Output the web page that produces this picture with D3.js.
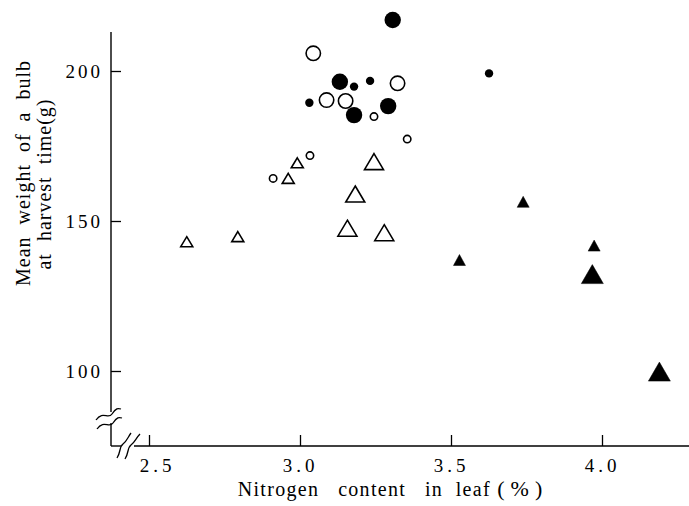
<!DOCTYPE html>
<html>
<head>
<meta charset="utf-8">
<script src="https://cdn.jsdelivr.net/npm/d3@7"></script>
<style>
  html, body { margin: 0; padding: 0; background: #fff; }
  svg { display: block; }
  text { font-family: "Liberation Serif", "DejaVu Serif", serif; fill: #000; white-space: pre; }
</style>
</head>
<body>
<svg id="chart" width="689" height="506"></svg>
<script>
// ---- data ----
const xTicks = [2.5, 3.0, 3.5, 4.0];
const xTickLabels = ["2.5", "3.0", "3.5", "4.0"];
const yTicks = [100, 150, 200];
const yTickLabels = ["100", "150", "200"];

const filledCircleLargeX = [3.307, 3.132, 3.292, 3.179];
const filledCircleLargeY = [217.0, 196.4, 188.3, 185.3];
const filledCircleSmallX = [3.179, 3.232, 3.031, 3.626];
const filledCircleSmallY = [194.8, 196.7, 189.4, 199.2];
const openCircleLargeX = [3.044, 3.323, 3.088, 3.151];
const openCircleLargeY = [205.9, 195.9, 190.3, 190.0];
const openCircleSmallX = [3.245, 3.355, 3.033, 2.911];
const openCircleSmallY = [184.8, 177.3, 171.8, 164.2];
const openTriSmallX = [2.991, 2.961, 2.625, 2.794];
const openTriSmallY = [169.4, 164.2, 143.1, 144.8];
const openTriLargeX = [3.245, 3.183, 3.157, 3.279];
const openTriLargeY = [169.8, 159.0, 147.6, 146.1];
const filledTriSmallX = [3.739, 3.528, 3.974];
const filledTriSmallY = [156.4, 137.0, 141.8];
const filledTriLargeX = [3.968, 4.19];
const filledTriLargeY = [132.3, 99.8];

const xLabelMain = "Nitrogen   content   in  leaf ";
const xLabelUnit = "(%)";
const yLabel1 = "Mean  weight  of  a  bulb";
const yLabel2 = "at  harvest  time(g)";

// ---- drawing ----
const svg = d3.select("#chart");
const x = d3.scaleLinear().domain([2.5, 4.0]).range([149, 602]);
const y = d3.scaleLinear().domain([100, 200]).range([371, 71]);
const axisX0 = 111, axisY0 = 446;

// axes with inward ticks
const gx = svg.append("g").attr("transform", `translate(0,${axisY0})`)
  .call(d3.axisBottom(x).tickValues(xTicks).tickFormat((d, i) => xTickLabels[i])
    .tickSizeInner(-11).tickSizeOuter(0).tickPadding(13));
gx.select(".domain").remove();
gx.selectAll(".tick line").attr("stroke", "#000").attr("stroke-width", 1.3);
gx.selectAll(".tick text").attr("font-size", 19)
  .attr("font-family", "Liberation Serif, serif").attr("fill", "#000")
  .attr("dy", "0.71em")
  .attr("dx", (d, i) => i === 0 ? 8 : 0)
  .style("letter-spacing", "4px");

const gy = svg.append("g").attr("transform", `translate(${axisX0},0)`)
  .call(d3.axisLeft(y).tickValues(yTicks).tickFormat((d, i) => yTickLabels[i])
    .tickSizeInner(-10).tickSizeOuter(0).tickPadding(8));
gy.select(".domain").remove();
gy.selectAll(".tick line").attr("stroke", "#000").attr("stroke-width", 1.3);
gy.selectAll(".tick text").attr("font-size", 19)
  .attr("font-family", "Liberation Serif, serif").attr("fill", "#000")
  .style("letter-spacing", "3px");

// axis lines with breaks
const axisG = svg.append("g").attr("stroke", "#000").attr("stroke-width", 1.4).attr("fill", "none");
axisG.append("line").attr("x1", axisX0).attr("x2", axisX0).attr("y1", 32).attr("y2", 412);
axisG.append("line").attr("x1", axisX0).attr("x2", axisX0).attr("y1", 423).attr("y2", axisY0);
axisG.append("line").attr("x1", axisX0).attr("x2", 121).attr("y1", axisY0).attr("y2", axisY0);
axisG.append("line").attr("x1", 134).attr("x2", 689).attr("y1", axisY0).attr("y2", axisY0);

// break marks (tilde-like)
const brk = svg.append("g").attr("stroke", "#000").attr("stroke-width", 1.3).attr("fill", "none");
brk.append("path").attr("d", "M96,420 C103,410 108,420 112,414 S118,408 121,409");
brk.append("path").attr("d", "M97,429 C104,419 109,429 113,423 S119,417 122,418");
brk.append("path").attr("d", "M117,458 C121,452 119,447 123,444 S128,437 131,433");
brk.append("path").attr("d", "M125,459 C129,453 127,448 131,445 S136,438 140,434");

// markers
function tri(w, h) {
  return `M0,${-h/2} L${w/2},${h/2} L${-w/2},${h/2} Z`;
}
const marks = svg.append("g");
function circles(xs, ys, r, filled) {
  marks.selectAll(null).data(xs.map((v, i) => [v, ys[i]])).enter().append("circle")
    .attr("cx", d => x(d[0])).attr("cy", d => y(d[1])).attr("r", r)
    .attr("fill", filled ? "#000" : "#fff")
    .attr("stroke", "#000").attr("stroke-width", filled ? 0 : 1.6);
}
function triangles(xs, ys, w, h, filled) {
  marks.selectAll(null).data(xs.map((v, i) => [v, ys[i]])).enter().append("path")
    .attr("transform", d => `translate(${x(d[0])},${y(d[1])})`)
    .attr("d", tri(w, h))
    .attr("fill", filled ? "#000" : "#fff")
    .attr("stroke", "#000").attr("stroke-width", filled ? 0.5 : 1.6)
    .attr("stroke-linejoin", "miter");
}
circles(openCircleLargeX, openCircleLargeY, 7.2, false);
circles(openCircleSmallX, openCircleSmallY, 3.7, false);
circles(filledCircleLargeX, filledCircleLargeY, 8.2, true);
circles(filledCircleSmallX, filledCircleSmallY, 4.2, true);
triangles(openTriSmallX, openTriSmallY, 12, 10, false);
triangles(openTriLargeX, openTriLargeY, 19, 16, false);
triangles(filledTriSmallX, filledTriSmallY, 12, 11, true);
triangles(filledTriLargeX, filledTriLargeY, 22, 19, true);

// axis titles
const xt = svg.append("text").attr("x", 393).attr("y", 496).attr("text-anchor", "middle")
  .attr("font-size", 20).style("letter-spacing", "1.3px");
xt.append("tspan").text(xLabelMain);
xt.append("tspan").attr("font-size", 22).style("letter-spacing", "6px").text(xLabelUnit);
svg.append("text").attr("transform", "translate(30,173) rotate(-90)").attr("text-anchor", "middle")
  .attr("font-size", 20).style("letter-spacing", "1px").text(yLabel1);
svg.append("text").attr("transform", "translate(51,184) rotate(-90)").attr("text-anchor", "middle")
  .attr("font-size", 20).style("letter-spacing", "1px").text(yLabel2);
</script>
</body>
</html>
